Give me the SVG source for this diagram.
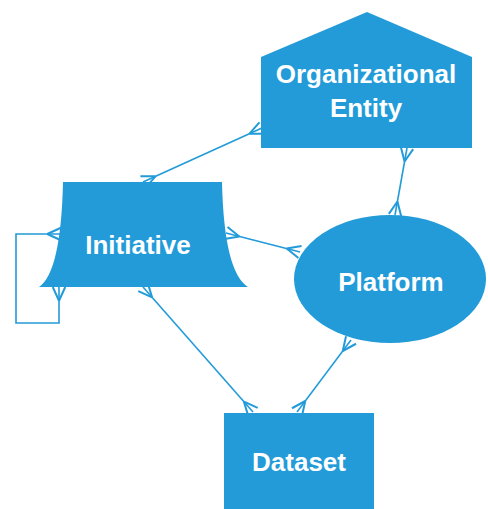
<svg xmlns="http://www.w3.org/2000/svg" width="488" height="509" viewBox="0 0 488 509">
<style>
.shape{fill:#229bd8;}
.lbl{fill:#fff;font-family:"Liberation Sans",Arial,sans-serif;font-weight:bold;font-size:26px;text-anchor:middle;}
.conn{fill:none;stroke:#229bd8;stroke-width:1.6;marker-start:url(#crow);marker-end:url(#crow);}
</style>
<defs>
<marker id="crow" markerUnits="userSpaceOnUse" markerWidth="20" markerHeight="20" viewBox="-12 -8 14 16" refX="0" refY="0" orient="auto-start-reverse" overflow="visible">
<path d="M-11,0 L0,-5 M-11,0 L0,5" fill="none" stroke="#229bd8" stroke-width="1.6"/>
</marker>
</defs>
<g id="connectors">
<path class="conn" d="M262,128 L143,182"/>
<path class="conn" d="M407,148 L395,215"/>
<path class="conn" d="M226,233 L300,252"/>
<path class="conn" d="M143,287 L253,412"/>
<path class="conn" d="M351,340 L297,412"/>
<path class="conn" d="M61,234 L16,234 L16,323 L59,323 L59,287"/>
</g>
<g id="org-entity">
<path class="shape" d="M367,12 L472,57 L472,148 L261,148 L261,57 Z"/>
<text class="lbl" x="366" y="83">Organizational</text>
<text class="lbl" x="366" y="117">Entity</text>
</g>
<g id="initiative">
<path class="shape" d="M63,182 L222,182 Q224,272 248,287 L39,287 Q61,272 63,182 Z"/>
<text class="lbl" x="138" y="254">Initiative</text>
</g>
<g id="platform">
<ellipse class="shape" cx="390" cy="279" rx="96" ry="64"/>
<text class="lbl" x="391" y="291">Platform</text>
</g>
<g id="dataset">
<rect class="shape" x="224" y="413" width="150" height="96"/>
<text class="lbl" x="299" y="471">Dataset</text>
</g>
</svg>
